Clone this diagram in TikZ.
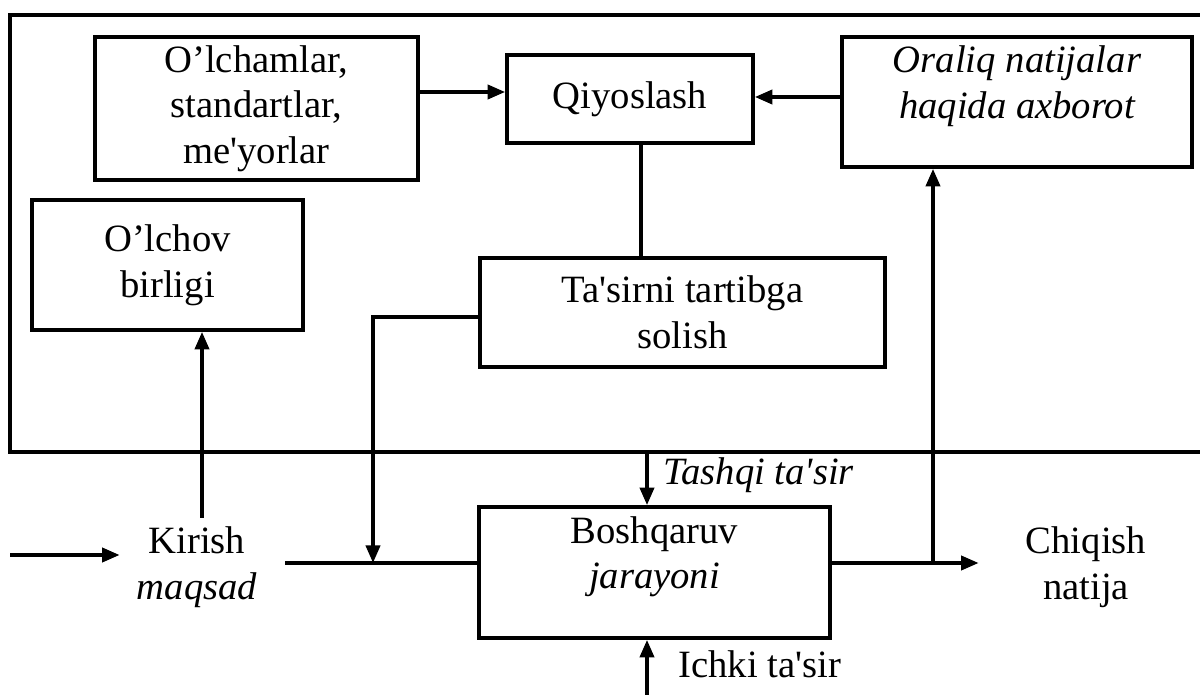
\documentclass[tikz,border=0pt]{standalone}
\usepackage{fontspec}
\setmainfont{Liberation Serif}[Ligatures=TeXOff]
\usetikzlibrary{arrows.meta,calc}
\begin{document}
\begin{tikzpicture}[x=0.02cm,y=-0.02cm,
  every node/.style={font=\fontsize{22}{26}\selectfont, align=center},
  box/.style={draw, line width=2.1pt, rectangle, inner sep=0pt},
  plain/.style={inner sep=0pt},
  conn/.style={line width=2.1pt},
  arr/.style={conn, -{Triangle[length=10pt,width=8pt]}}
]
\useasboundingbox (0,0) rectangle (1200,695);

% frame (open to the right, beyond the page)
\node[box, minimum width=24.1cm, minimum height=8.74cm] (frame) at (612.5,233.5) {};

% boxes
\node[box, minimum width=6.46cm, minimum height=2.86cm] (olch) at (256.5,108.5) {O’lchamlar,\\standartlar,\\me'yorlar};
\node[box, minimum width=4.92cm, minimum height=1.76cm] (qiy) at (630,99) {Qiyoslash};
\node[box, minimum width=7.0cm, minimum height=2.6cm, font=\fontsize{22}{26}\selectfont\itshape, text depth=0.8cm] (oral) at (1017,102) {Oraliq natijalar\\haqida axborot};
\node[box, minimum width=5.42cm, minimum height=2.6cm] (olchov) at (167.5,265) {O’lchov\\birligi};
\node[box, minimum width=8.1cm, minimum height=2.18cm] (tas) at (682.5,312.5) {Ta'sirni tartibga\\solish};
\node[box, minimum width=7.02cm, minimum height=2.62cm, text depth=0.8cm] (bosh) at (654.5,572.5) {Boshqaruv\\\textit{jarayoni}};

% free text nodes
\node[plain, minimum width=3.52cm, minimum height=1.96cm] (kir) at (197,567) {Kirish\\\textit{maqsad}};
\node[plain, minimum width=4.28cm, minimum height=1.96cm] (chiq) at (1086,567) {Chiqish\\natija};
\node[plain, anchor=base west, font=\fontsize{22}{26}\selectfont\itshape] (tashqi) at (663,485) {Tashqi ta'sir};
\node[plain, anchor=base west] (ichki) at (678,677) {Ichki ta'sir};

% helper coordinates
\coordinate (y92) at (0,92);
\coordinate (y97) at (0,97);
\coordinate (x641) at (641,0);
\coordinate (y317) at (0,317);
\coordinate (x373) at (373,0);
\coordinate (y563) at (0,563);
\coordinate (y555) at (0,555);
\coordinate (x202) at (202,0);
\coordinate (x647) at (647,0);
\coordinate (x933) at (933,0);
\coordinate (inStart) at (10,555);
\coordinate (ichkiStart) at (647,700);
\coordinate (jl) at (373,563);
\coordinate (jr) at (933,563);

% connectors
\draw[arr] (olch.east |- y92) -- (qiy.west |- y92);
\draw[arr] (oral.west |- y97) -- (qiy.east |- y97);
\draw[conn] (qiy.south -| x641) -- (tas.north -| x641);
\draw[arr] (tas.west |- y317) -- (x373 |- y317) -- (jl);
\draw[conn] (kir.east |- y563) -- (bosh.west |- y563);
\draw[arr] (inStart) -- ([xshift=0.22cm]kir.west |- y555);
\draw[arr] (kir.north -| x202) -- (olchov.south -| x202);
\draw[arr] (frame.south -| x647) -- (bosh.north -| x647);
\draw[arr] (ichkiStart) -- (bosh.south -| x647);
\draw[arr] (bosh.east |- y563) -- (chiq.west |- y563);
\draw[arr] (jr) -- (oral.south -| x933);
\end{tikzpicture}
\end{document}
